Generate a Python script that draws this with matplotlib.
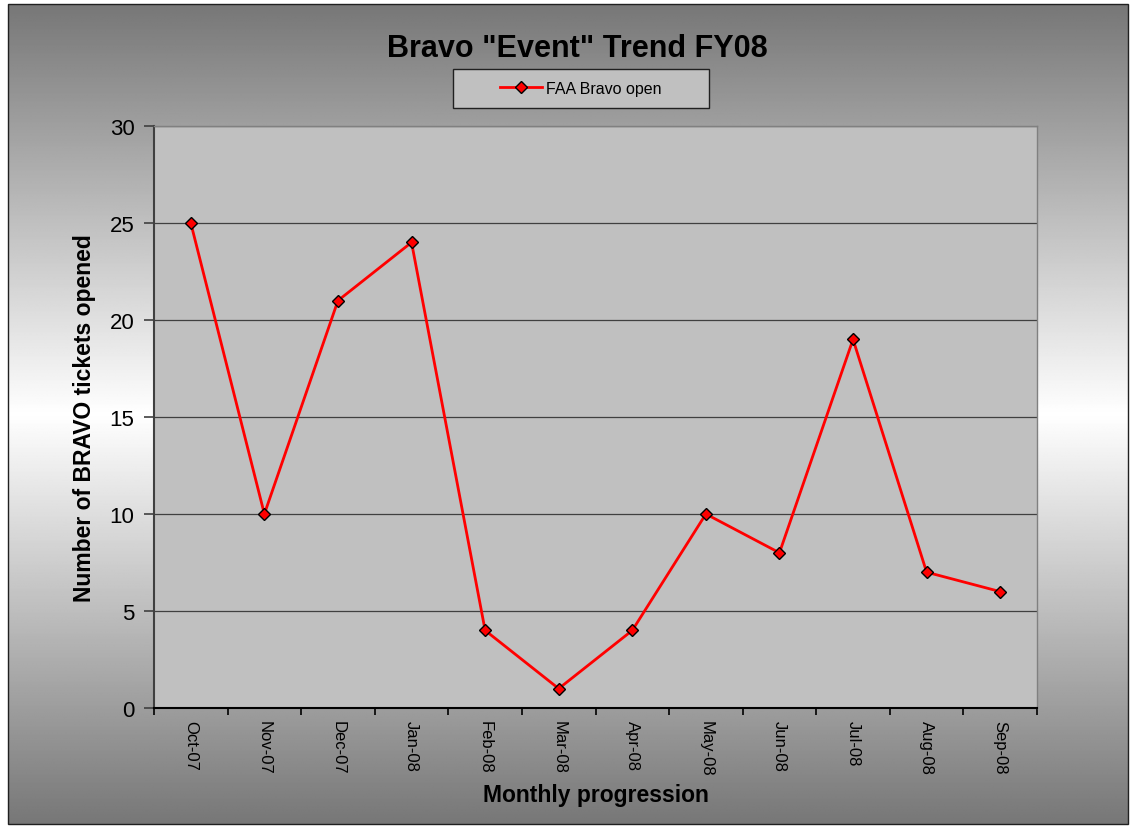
import numpy as np
import matplotlib
matplotlib.use("Agg")
import matplotlib.pyplot as plt
from matplotlib.patches import Rectangle

months = ["Oct-07", "Nov-07", "Dec-07", "Jan-08", "Feb-08", "Mar-08",
          "Apr-08", "May-08", "Jun-08", "Jul-08", "Aug-08", "Sep-08"]
bravo_open = [25, 10, 21, 24, 4, 1, 4, 10, 8, 19, 7, 6]
y_ticks = [0, 5, 10, 15, 20, 25, 30]

plt.rcParams["font.family"] = ["Liberation Sans", "DejaVu Sans"]

W, H = 1131, 828
fig = plt.figure(figsize=(W / 100, H / 100), dpi=100)
fig.patch.set_facecolor("white")

# chart area: grey gradient, dark at top and bottom, white in the middle
bx0, by0, bx1, by1 = 8, 5, 1128, 825
bg = fig.add_axes([bx0 / W, 1 - by1 / H, (bx1 - bx0) / W, (by1 - by0) / H], zorder=0)
t = np.linspace(0, 1, 512)
shade = 0x77 / 255 + (1 - 0x77 / 255) * (1 - np.abs(2 * t - 1))
bg.imshow(np.tile(shade[:, None], (1, 4)), cmap="gray", vmin=0, vmax=1,
          aspect="auto", extent=[0, 1, 0, 1], interpolation="bilinear")
bg.set_axis_off()
fig.add_artist(Rectangle((bx0 / W, 1 - by1 / H), (bx1 - bx0) / W, (by1 - by0) / H,
                         transform=fig.transFigure, fill=False, edgecolor="#202020",
                         linewidth=1.0, zorder=5))

# plot area
px0, py0, px1, py1 = 154, 127, 1037, 709
ax = fig.add_axes([px0 / W, 1 - py1 / H, (px1 - px0) / W, (py1 - py0) / H], zorder=1)
ax.set_facecolor("#c0c0c0")

x = np.arange(len(months))
ax.plot(x, bravo_open, color="#ff0000", linewidth=2.0, marker="D", markersize=6,
        markerfacecolor="#ff0000", markeredgecolor="black", markeredgewidth=1.0,
        label="FAA Bravo open", zorder=3)

ax.set_xlim(-0.5, len(months) - 0.5)
ax.set_ylim(0, 30)
ax.set_yticks(y_ticks)
ax.set_yticklabels([str(v) for v in y_ticks], fontsize=16)
ax.set_xticks(np.arange(len(months) + 1) - 0.5)
ax.set_xticklabels([])
ax.set_xticks(x, minor=True)
ax.set_xticklabels(months, minor=True, rotation=270, fontsize=12, va="top", ha="center")
ax.tick_params(axis="x", which="minor", length=0, pad=9)
ax.tick_params(axis="x", which="major", length=5, width=1.2, color="black", direction="out")
ax.tick_params(axis="y", length=7, width=1.2, color="#404040", direction="out", pad=7)

ax.grid(axis="y", color="#404040", linewidth=0.9)
ax.set_axisbelow(True)
for side, col, lw in [("left", "#404040", 1.5), ("bottom", "black", 1.5),
                      ("top", "#808080", 1.0), ("right", "#808080", 1.0)]:
    ax.spines[side].set_color(col)
    ax.spines[side].set_linewidth(lw)

ax.set_xlabel("Monthly progression", fontsize=16.5, fontweight="bold", labelpad=5)
ax.set_ylabel("Number of BRAVO tickets opened", fontsize=16.5, fontweight="bold", labelpad=10)

fig.text(577 / W, 1 - 49 / H, 'Bravo "Event" Trend FY08', fontsize=22, fontweight="bold",
         ha="center", va="center", zorder=6)

# legend box with fixed size, entry centred inside
lx0, ly0, lx1, ly1 = 453, 70, 709, 109
fig.add_artist(Rectangle((lx0 / W, 1 - ly1 / H), (lx1 - lx0) / W, (ly1 - ly0) / H,
                         transform=fig.transFigure, facecolor="#c0c0c0",
                         edgecolor="#202020", linewidth=1.0, zorder=4))
leg = fig.legend(*ax.get_legend_handles_labels(), loc="center",
                 bbox_to_anchor=((lx0 + lx1) / 2 / W, 1 - (ly0 + ly1) / 2 / H),
                 fontsize=11.5, frameon=False, handlelength=2.6, handletextpad=0.3,
                 borderpad=0, borderaxespad=0)
leg.set_zorder(6)

fig.savefig("out.png", dpi=100, facecolor=fig.get_facecolor())
